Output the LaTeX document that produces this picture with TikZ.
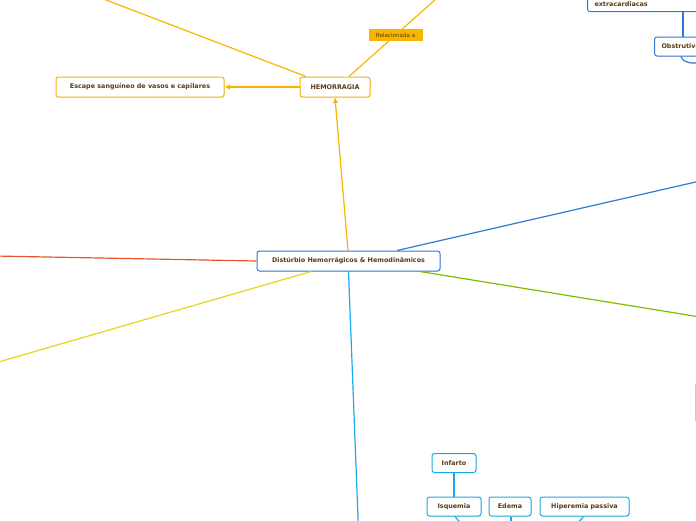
\documentclass[tikz,border=0pt]{standalone}
\usepackage{fontspec}
\setmainfont{DejaVu Sans}
\usepackage{tikz}
\usetikzlibrary{arrows.meta,shadows}

\definecolor{txtbrown}{HTML}{5A3A17}
\definecolor{mapblue}{HTML}{2F78D8}
\definecolor{maporange}{HTML}{F7B500}
\definecolor{mapcyan}{HTML}{1EA8EA}
\definecolor{mapgreen}{HTML}{7DBB00}
\definecolor{mapred}{HTML}{E8552A}
\definecolor{mapyellow}{HTML}{E8D41C}
\definecolor{mapolive}{HTML}{CFCCA8}

\begin{document}
\begin{tikzpicture}[
    x=1pt, y=-1pt,
    >={Latex[length=5.5pt,width=5.5pt]},
    plainbox/.style={draw, rounded corners=2.5pt, fill=white, line width=1pt,
      minimum height=19pt, inner xsep=6pt, text=txtbrown,
      font=\fontsize{6.4}{7.5}\selectfont\bfseries},
    box/.style={plainbox,
      drop shadow={shadow xshift=0.8pt, shadow yshift=-0.8pt, fill=black!12}},
    hembox/.style={box, draw=maporange},
    bluebox/.style={box, draw=mapblue},
    cyanbox/.style={box, draw=mapcyan},
    relabel/.style={fill=maporange, text=txtbrown, inner sep=2pt, minimum width=54pt,
      minimum height=12pt, font=\fontsize{5.6}{6.5}\selectfont},
    link/.style={line width=1.2pt},
  ]
    \useasboundingbox (0,0) rectangle (696,520);
    \clip (0,0) rectangle (696,520);

    % central topic
    \node[bluebox, minimum width=183pt, minimum height=20pt] (dist) at (348.5,261)
      {Distúrbio Hemorrágicos \& Hemodinâmicos};

    % hemorragia branch
    \node[hembox, minimum width=70pt, minimum height=20pt] (hem) at (335,87) {HEMORRAGIA};
    \node[hembox, minimum width=168pt, minimum height=20pt] (esc) at (140,87)
      {Escape sanguíneo de vasos e capilares};
    \coordinate (hemleft) at (80,-10);
    \coordinate (hemright) at (446,-10);

    \draw[link, maporange, ->] ([xshift=-0.5pt]dist.north) -- (hem.south);
    \draw[link, maporange, ->] (hem.west) -- (esc.east);
    \draw[link, maporange] ([xshift=-29pt]hem.north) -- (hemleft);
    \draw[link, maporange] ([xshift=14pt]hem.north) -- (hemright)
      node[relabel, pos=0.48] (rel) {Relacionada a};

    % top right (blue) branch
    \node[plainbox, draw=mapblue, anchor=south west, minimum width=140pt,
      text height=22pt, text depth=2pt, text width=126pt, align=left]
      (extra) at (587,12) {extracardiacas};
    \node[bluebox, anchor=west, minimum width=90pt, text width=76pt, align=left,
      minimum height=19pt] (obs) at (654,46.5) {Obstrutivo};
    \coordinate (obsout) at (700,63);
    \draw[link, mapblue] ([xshift=96pt]extra.south west) -- ([xshift=29pt]obs.north west);
    \draw[link, mapblue] ([xshift=27pt]obs.south west) to[out=-70, in=180] (obsout);

    % other main branches
    \coordinate (blueend) at (700,181);
    \coordinate (greenend) at (700,317);
    \coordinate (redend) at (-5,256);
    \coordinate (yellowend) at (-5,363);
    \coordinate (cyanend) at (358.3,525);
    \draw[link, mapblue] ([xshift=48.5pt]dist.north) -- (blueend);
    \draw[link, mapgreen] ([xshift=71.5pt]dist.south) -- (greenend);
    \draw[link, mapred] (dist.west) -- (redend);
    \draw[link, mapyellow] ([xshift=-37.5pt]dist.south) -- (yellowend);
    \draw[link, mapcyan] (dist.south) -- (cyanend);

    % partly visible box on the right edge
    \node[draw=mapolive, line width=0.8pt, rounded corners=2pt, anchor=west,
      minimum width=40pt, minimum height=39pt] (rbox) at (695,402.5) {};

    % cyan branch boxes
    \node[cyanbox, minimum width=44pt] (inf) at (454,463) {Infarto};
    \node[cyanbox, minimum width=54pt] (isq) at (454,506.5) {Isquemia};
    \node[cyanbox, minimum width=42pt] (ede) at (510,506.5) {Edema};
    \node[cyanbox, minimum width=89pt] (hip) at (584.5,506.5) {Hiperemia passiva};
    \coordinate (isqout) at (466,530);
    \coordinate (edeout) at (511,530);
    \coordinate (hipout) at (572,530);

    \draw[link, mapcyan] (inf.south) -- (isq.north);
    \draw[link, mapcyan] ([xshift=1pt]isq.south) to[out=-60, in=100] (isqout);
    \draw[link, mapcyan] ([xshift=1pt]ede.south) -- (edeout);
    \draw[link, mapcyan] ([xshift=-1pt]hip.south) to[out=-120, in=80] (hipout);
\end{tikzpicture}
\end{document}
